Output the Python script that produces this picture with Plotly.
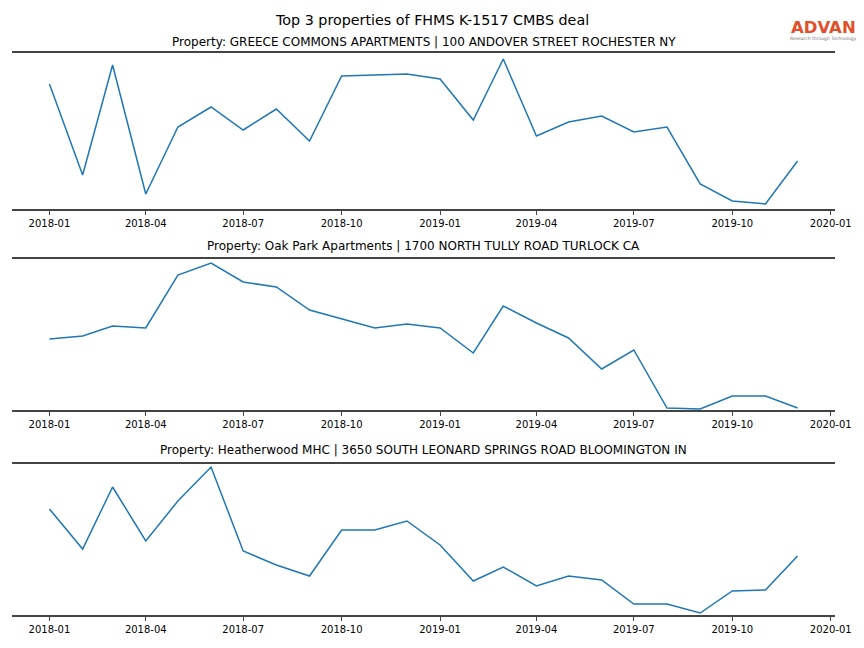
import plotly.graph_objects as go

months = ["2018-01-01", "2018-02-01", "2018-03-01", "2018-04-01", "2018-05-01", "2018-06-01",
          "2018-07-01", "2018-08-01", "2018-09-01", "2018-10-01", "2018-11-01", "2018-12-01",
          "2019-01-01", "2019-02-01", "2019-03-01", "2019-04-01", "2019-05-01", "2019-06-01",
          "2019-07-01", "2019-08-01", "2019-09-01", "2019-10-01", "2019-11-01", "2019-12-01"]

greece_commons = [125, 34, 144, 15, 82, 102, 79, 100, 68, 133, 134, 135,
                  130, 89, 150, 73, 87, 93, 77, 82, 25, 8, 5, 48]
oak_park = [71, 74, 84, 82, 135, 147, 128, 123, 100, 91, 82, 86,
            82, 57, 104, 87, 72, 41, 60, 2, 1, 14, 14, 2]
heatherwood = [106, 66, 128, 74, 114, 148, 64, 50, 39, 85, 85, 94,
               70, 34, 48, 29, 39, 35, 11, 11, 2, 24, 25, 59]

titles = ["Property: GREECE COMMONS APARTMENTS | 100 ANDOVER STREET ROCHESTER NY",
          "Property: Oak Park Apartments | 1700 NORTH TULLY ROAD TURLOCK CA",
          "Property: Heatherwood MHC | 3650 SOUTH LEONARD SPRINGS ROAD BLOOMINGTON IN"]
main_title = "Top 3 properties of FHMS K-1517 CMBS deal"
logo_text = "ADVAN"
logo_tagline = "Research through Technology"

series = [greece_commons, oak_park, heatherwood]
y_ranges = [[0, 156], [0, 151], [0, 151]]

W, H = 864, 648
OFF = 8          # body margin of the page
EFF_W = 848      # width the figure ends up occupying on the page


def px(x):
    return (x - OFF) / EFF_W


def py(y):
    return 1 - (y - OFF) / H


boxes = [(53, 209), (259, 410), (464, 615)]   # page-pixel top/bottom of each panel
x_left, x_right = 12, 836
title_centers = [42, 246, 450]

fig = go.Figure()
font_family = "DejaVu Sans"

for i, vals in enumerate(series):
    n = "" if i == 0 else str(i + 1)
    fig.add_trace(go.Scatter(x=months, y=vals, mode="lines",
                             line=dict(color="#1f77b4", width=1.5),
                             xaxis="x" + n, yaxis="y" + n, showlegend=False))
    top, bot = boxes[i]
    fig.update_layout({
        "xaxis" + n: dict(
            domain=[px(x_left), px(x_right)],
            anchor="y" + n,
            type="date",
            range=["2017-11-27", "2020-01-05"],
            tick0="2018-01-01", dtick="M3", tickformat="%Y-%m",
            ticks="outside", ticklen=4, tickwidth=1, tickcolor="#444444",
            showline=True, mirror=True, linecolor="#444444", linewidth=2,
            showgrid=False, zeroline=False,
            tickfont=dict(size=10, color="black", family=font_family),
        ),
        "yaxis" + n: dict(
            domain=[py(bot), py(top)],
            anchor="x" + n,
            range=y_ranges[i],
            showticklabels=False, ticks="", showgrid=False,
            zeroline=False, showline=False,
        ),
    })
    fig.add_annotation(text=titles[i], xref="paper", yref="paper",
                       x=px((x_left + x_right) / 2), y=py(title_centers[i]),
                       xanchor="center", yanchor="middle", showarrow=False,
                       font=dict(size=12, color="black", family=font_family))

fig.add_annotation(text=main_title, xref="paper", yref="paper",
                   x=px(432), y=py(20), xanchor="center", yanchor="middle",
                   showarrow=False, font=dict(size=14.3, color="black", family=font_family))

# logo
fig.add_annotation(text=logo_text, xref="paper", yref="paper",
                   x=px(824), y=py(27), xanchor="center", yanchor="middle",
                   showarrow=False,
                   font=dict(size=16.5, color="#E0502A", family=font_family, weight="bold"))
fig.add_annotation(text=logo_tagline, xref="paper", yref="paper",
                   x=px(824), y=py(38.5), xanchor="center", yanchor="middle",
                   showarrow=False, font=dict(size=4.5, color="#777777", family=font_family))

fig.update_layout(width=W, height=H, margin=dict(l=0, r=0, t=0, b=0),
                  paper_bgcolor="white", plot_bgcolor="white",
                  font=dict(family=font_family))

fig.write_html("out.html")
